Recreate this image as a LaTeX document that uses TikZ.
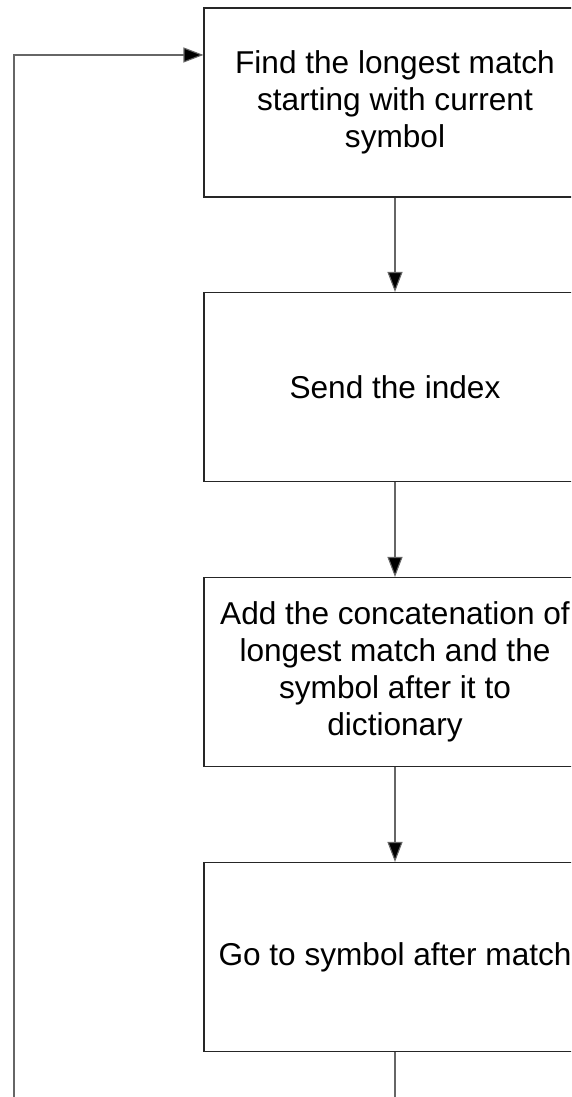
\documentclass[tikz,border=0pt]{standalone}
\usepackage{fontspec}
\setmainfont{Liberation Sans}
\usepackage{tikz}
\usetikzlibrary{arrows.meta, calc}

\tikzset{
	stepbox/.style={draw=black!85, line width=1.1pt, minimum width=382pt, minimum height=189pt,
		inner sep=0pt, align=center, font=\fontsize{31.6}{37}\selectfont},
	flow/.style={draw=black!60, line width=1.1pt, -{Triangle[length=20pt,width=15pt,fill=black]}}
}

\begin{document}
\begin{tikzpicture}[x=1pt, y=-1pt]
					\clip (0,0) rectangle (571,1097);
					\node[stepbox] at (395, 102.5) (find) {Find the longest match\\starting with current\\symbol};
					\node[stepbox] at (395, 387) (send) {Send the index};
					\node[stepbox] at (395, 672) (add) {Add the concatenation of\\longest match and the\\symbol after it to\\dictionary};
					\node[stepbox] at (395, 957) (go) {Go to symbol after match};
					\coordinate (back) at (14, 1130);
					\coordinate (entry) at ($(find.north west)!0.25!(find.south west)$);
					
					\draw
					(find) edge[flow] (send)
					(send) edge[flow] (add)
					(add) edge[flow] (go);
					\draw[flow] (go.south) -- (go.south |- back) -- (back) |- (entry);
				\end{tikzpicture}
\end{document}
